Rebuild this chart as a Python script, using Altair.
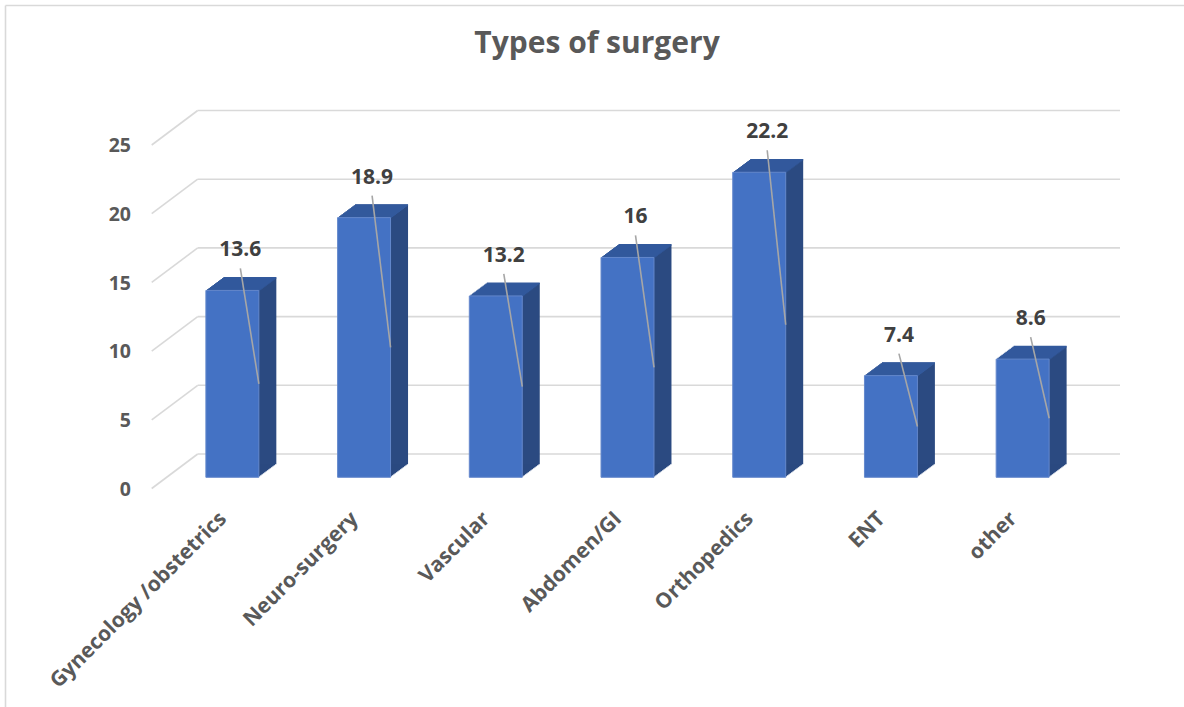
import altair as alt
import pandas as pd

# ---- data ----
categories = ["Gynecology /obstetrics", "Neuro-surgery", "Vascular", "Abdomen/GI",
              "Orthopedics", "ENT", "other"]
values = [13.6, 18.9, 13.2, 16, 22.2, 7.4, 8.6]
y_ticks = [0, 5, 10, 15, 20, 25]
title_text = "Types of surgery"

df = pd.DataFrame({"cat": categories, "value": values})
ticks_df = pd.DataFrame({"tick": y_ticks})
title_df = pd.DataFrame({"t": [title_text]})

# ---- layout / style ----
W, H = 922, 343.5
PL, PT = 166.5, 133.8
FONT = "Open Sans"
FRONT, SIDE, TOP = "#4472c4", "#2b4a81", "#32599c"
GRID = "#d9d9d9"
DEPTH_X, DEPTH_Y, STEPS = 17.5, 13.0, 13
ddx, ddy = DEPTH_X / STEPS, DEPTH_Y / STEPS

x_axis = alt.Axis(title=None, labelAngle=-45, labelAlign="right", labelBaseline="middle",
                  labelOffset=-9, labelPadding=38, ticks=False, tickSize=0, domain=False,
                  grid=False, labelFont=FONT, labelFontSize=21, labelFontWeight="bold",
                  labelColor="#595959", labelLimit=0)
y_axis = alt.Axis(title=None, values=y_ticks, grid=False, domain=False, ticks=False,
                  tickSize=0, labelPadding=36, labelOffset=12, labelFont=FONT,
                  labelFontSize=19.5, labelFontWeight="bold", labelColor="#595959")


def xenc():
    return alt.X("cat:N", sort=categories,
                 scale=alt.Scale(paddingInner=0.598, paddingOuter=0.299), axis=x_axis)


def yenc(field="value"):
    return alt.Y(f"{field}:Q", scale=alt.Scale(domain=[0, 25], nice=False, zero=True),
                 axis=y_axis)


layers = []

# chart border (left and top edges visible)
layers.append(alt.Chart(title_df).mark_rule(color=GRID, strokeWidth=1.6).encode(
    x=alt.value(-161), y=alt.value(-128.3), y2=alt.value(H + 260)))
layers.append(alt.Chart(title_df).mark_rule(color=GRID, strokeWidth=1.6).encode(
    x=alt.value(-161), x2=alt.value(W + 120), y=alt.value(-128.3)))

# back-wall gridlines and left-wall diagonals
layers.append(alt.Chart(ticks_df).mark_rule(color=GRID, strokeWidth=1.6,
                                            yOffset=-23.3, y2Offset=-23.3).encode(
    x=alt.value(31.2), x2=alt.value(953.5), y=yenc("tick"), y2="tick:Q"))
layers.append(alt.Chart(ticks_df).mark_rule(color=GRID, strokeWidth=1.6,
                                            yOffset=11.2, y2Offset=-23.3).encode(
    x=alt.value(-14.8), x2=alt.value(31.2), y=yenc("tick"), y2="tick:Q"))

# side faces (extruded copies)
for k in range(1, STEPS + 1):
    layers.append(alt.Chart(df).mark_bar(color=SIDE, xOffset=k * ddx, yOffset=-k * ddy,
                                         y2Offset=-k * ddy).encode(
        x=xenc(), y=yenc(), y2=alt.datum(0)))

# top faces (thin strips)
for k in range(1, STEPS + 1):
    layers.append(alt.Chart(df).mark_bar(color=TOP, xOffset=k * ddx,
                                         yOffset=-k * ddy - 0.35,
                                         y2Offset=-(k - 1) * ddy + 0.35).encode(
        x=xenc(), y=yenc(), y2="value:Q"))

# front faces
layers.append(alt.Chart(df).mark_bar(color=FRONT, stroke="#6488cc", strokeWidth=1).encode(
    x=xenc(), y=yenc(), y2=alt.datum(0)))

# leader lines
layers.append(alt.Chart(df).transform_calculate(mid="datum.value / 2").mark_rule(
    color="#a6a6a6", strokeWidth=1.6, xOffset=8, yOffset=-22, x2Offset=26.5).encode(
    x=xenc(), x2="cat:N", y=yenc(), y2="mid:Q"))

# data labels
layers.append(alt.Chart(df).mark_text(dx=8, dy=-40, font=FONT, fontSize=21,
                                      fontWeight="bold", color="#404040").encode(
    x=xenc(), y=yenc(), text=alt.Text("value:Q", format="~g")))

# title
layers.append(alt.Chart(title_df).mark_text(font=FONT, fontSize=30, fontWeight="bold",
                                            color="#595959", baseline="alphabetic",
                                            align="center").encode(
    x=alt.value(430.5), y=alt.value(-80.5), text="t:N"))

chart = alt.layer(*layers).properties(
    width=W, height=H,
    autosize=alt.AutoSizeParams(type="none"),
    padding={"left": PL, "top": PT, "right": 1184 - PL - W, "bottom": 707 - PT - H},
    background="white",
).configure_view(strokeWidth=0)

chart.save("out.html", embed_options={"renderer": "svg", "actions": False})
